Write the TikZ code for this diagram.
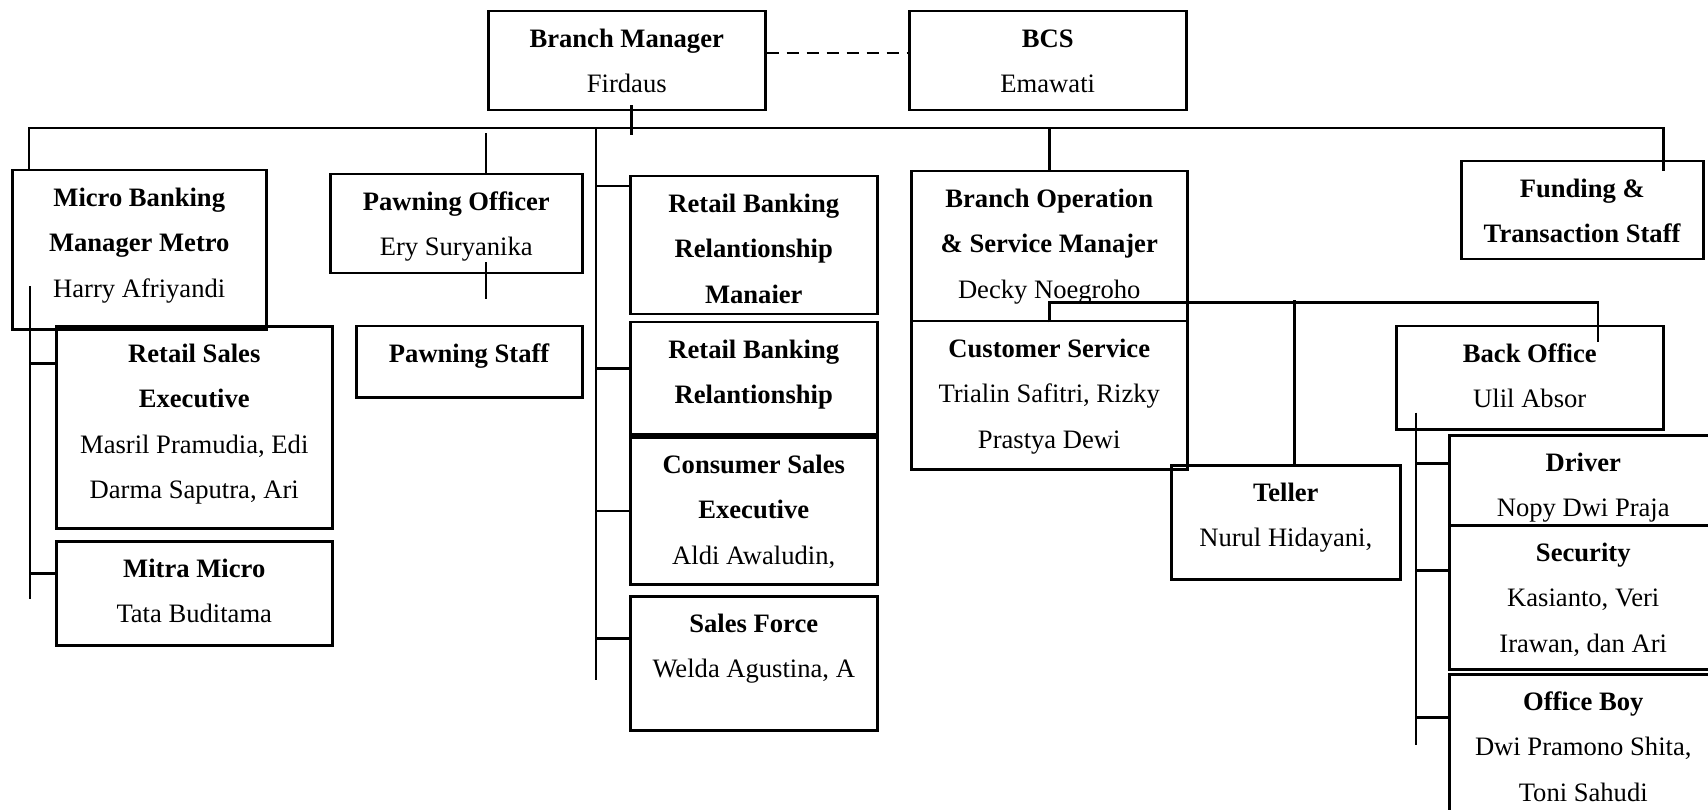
\documentclass[tikz,border=0pt]{standalone}
\usepackage{fontspec}
\setmainfont{Liberation Serif}
\usepackage{tikz}
\newcommand{\postlines}[1]{\begin{tabular}[t]{@{}c@{}}#1\end{tabular}}

\begin{document}
\begin{tikzpicture}[x=1pt,y=-1pt,
  post/.style={draw, line width=2.5pt, inner sep=0pt, anchor=north west,
    text height=36pt, font=\fontsize{26.6pt}{45.5pt}\selectfont},
  wd/.style={minimum width=#1pt},
  dp/.style={text depth=#1pt},
  link/.style={line width=2.5pt},
  dashlink/.style={line width=2.2pt, dash pattern=on 12pt off 8pt}]
\path[use as bounding box, fill=white] (0,0) rectangle (1708,810);
% top
\node[post, wd=277, dp=63] (bm) at (487,10) {\postlines{\textbf{Branch Manager}\\Firdaus}};
\node[post, wd=277, dp=63] (bcs) at (908,10) {\postlines{\textbf{BCS}\\Emawati}};
\draw[dashlink] ([yshift=7.5pt]bm.east) -- ([yshift=7.5pt]bcs.west);
% micro banking
\node[post, wd=254, dp=123] (mbm) at (11,169) {\postlines{\textbf{Micro Banking}\\\textbf{Manager Metro}\\Harry Afriyandi}};
\node[post, wd=276, dp=166] (rse) at (55,325) {\postlines{\textbf{Retail Sales}\\\textbf{Executive}\\Masril Pramudia, Edi\\Darma Saputra, Ari}};
\node[post, wd=276, dp=68] (mitra) at (55,540) {\postlines{\textbf{Mitra Micro}\\Tata Buditama}};
% pawning
\node[post, wd=252, dp=63] (po) at (329,173) {\postlines{\textbf{Pawning Officer}\\Ery Suryanika}};
\node[post, wd=226, dp=35] (ps) at (355,325) {\postlines{\textbf{Pawning Staff}}};
% retail
\node[post, wd=247, dp=102] (rbrm) at (629,175) {\postlines{\textbf{Retail Banking}\\\textbf{Relantionship}\\\textbf{Manaier}}};
\node[post, wd=247, dp=76] (rbr) at (629,321) {\postlines{\textbf{Retail Banking}\\\textbf{Relantionship}}};
\node[post, wd=247, dp=111] (cse) at (629,436) {\postlines{\textbf{Consumer Sales}\\\textbf{Executive}\\Aldi Awaludin,}};
\node[post, wd=247, dp=98] (sf) at (629,595) {\postlines{\textbf{Sales Force}\\Welda Agustina, A}};
% operation
\node[post, wd=276, dp=114] (bosm) at (910,170) {\postlines{\textbf{Branch Operation}\\\textbf{\& Service Manajer}\\Decky Noegroho}};
\node[post, wd=276, dp=112] (cs) at (910,320) {\postlines{\textbf{Customer Service}\\Trialin Safitri, Rizky\\Prastya Dewi}};
\node[post, wd=229, dp=78] (teller) at (1170,464) {\postlines{\textbf{Teller}\\Nurul Hidayani,}};
\node[post, wd=267, dp=67] (bo) at (1395,325) {\postlines{\textbf{Back Office}\\Ulil Absor}};
\node[post, wd=268, dp=54] (driver) at (1448,434) {\postlines{\textbf{Driver}\\Nopy Dwi Praja}};
\node[post, wd=268, dp=108] (security) at (1448,524) {\postlines{\textbf{Security}\\Kasianto, Veri\\Irawan, dan Ari}};
\node[post, wd=268, dp=114] (ob) at (1448,673) {\postlines{\textbf{Office Boy}\\Dwi Pramono Shita,\\Toni Sahudi}};
\node[post, wd=242, dp=62] (fts) at (1460,160) {\postlines{\textbf{Funding \&}\\\textbf{Transaction Staff}}};
% main bus
\coordinate (bus) at (0,128);
\coordinate (dropL) at ([xshift=18pt]mbm.north west);
\coordinate (dropR) at ([xshift=-41pt]fts.north east);
\coordinate (dropP) at ([xshift=157pt]po.north west);
\coordinate (rspine) at (596,128);
\draw[link] ([xshift=4.5pt,yshift=6pt]bm.south) -- ++(0,30);
\draw[link] (dropL) -- (dropL |- bus) -- (dropR |- bus) -- ([yshift=-11pt]dropR);
\draw[link] (dropP) -- ++(0,-40);
\draw[link] ([xshift=157pt,yshift=12pt]po.south west) -- ++(0,37);
\draw[link] (bosm.north |- bus) -- (bosm.north);
% left spine
\draw[link] ([xshift=19pt,yshift=44pt]mbm.south west) -- ++(0,312);
\draw[link] ([yshift=64pt]rse.west) -- ++(-25,0);
\draw[link] ([yshift=20pt]mitra.west) -- ++(-25,0);
% retail spine
\draw[link] (rspine) -- ++(0,552);
\draw[link] ([yshift=59pt]rbrm.west) -- ++(-33,0);
\draw[link] ([yshift=10pt]rbr.west) -- ++(-33,0);
\draw[link] (cse.west) -- ++(-33,0);
\draw[link] ([yshift=25pt]sf.west) -- ++(-33,0);
% operation bus
\draw[link] (bosm.south) -- ++(0,-20) -| ([xshift=68pt,yshift=-17pt]bo.north);
\draw[link] ([xshift=8.5pt]teller.north) -- ++(0,-164);
% back office spine
\draw[link] ([xshift=21pt,yshift=18pt]bo.south west) -- ++(0,332);
\draw[link] ([yshift=17pt]driver.west) -- ++(-32,0);
\draw[link] ([yshift=27pt]security.west) -- ++(-32,0);
\draw[link] ([yshift=32pt]ob.west) -- ++(-32,0);
\end{tikzpicture}
\end{document}
